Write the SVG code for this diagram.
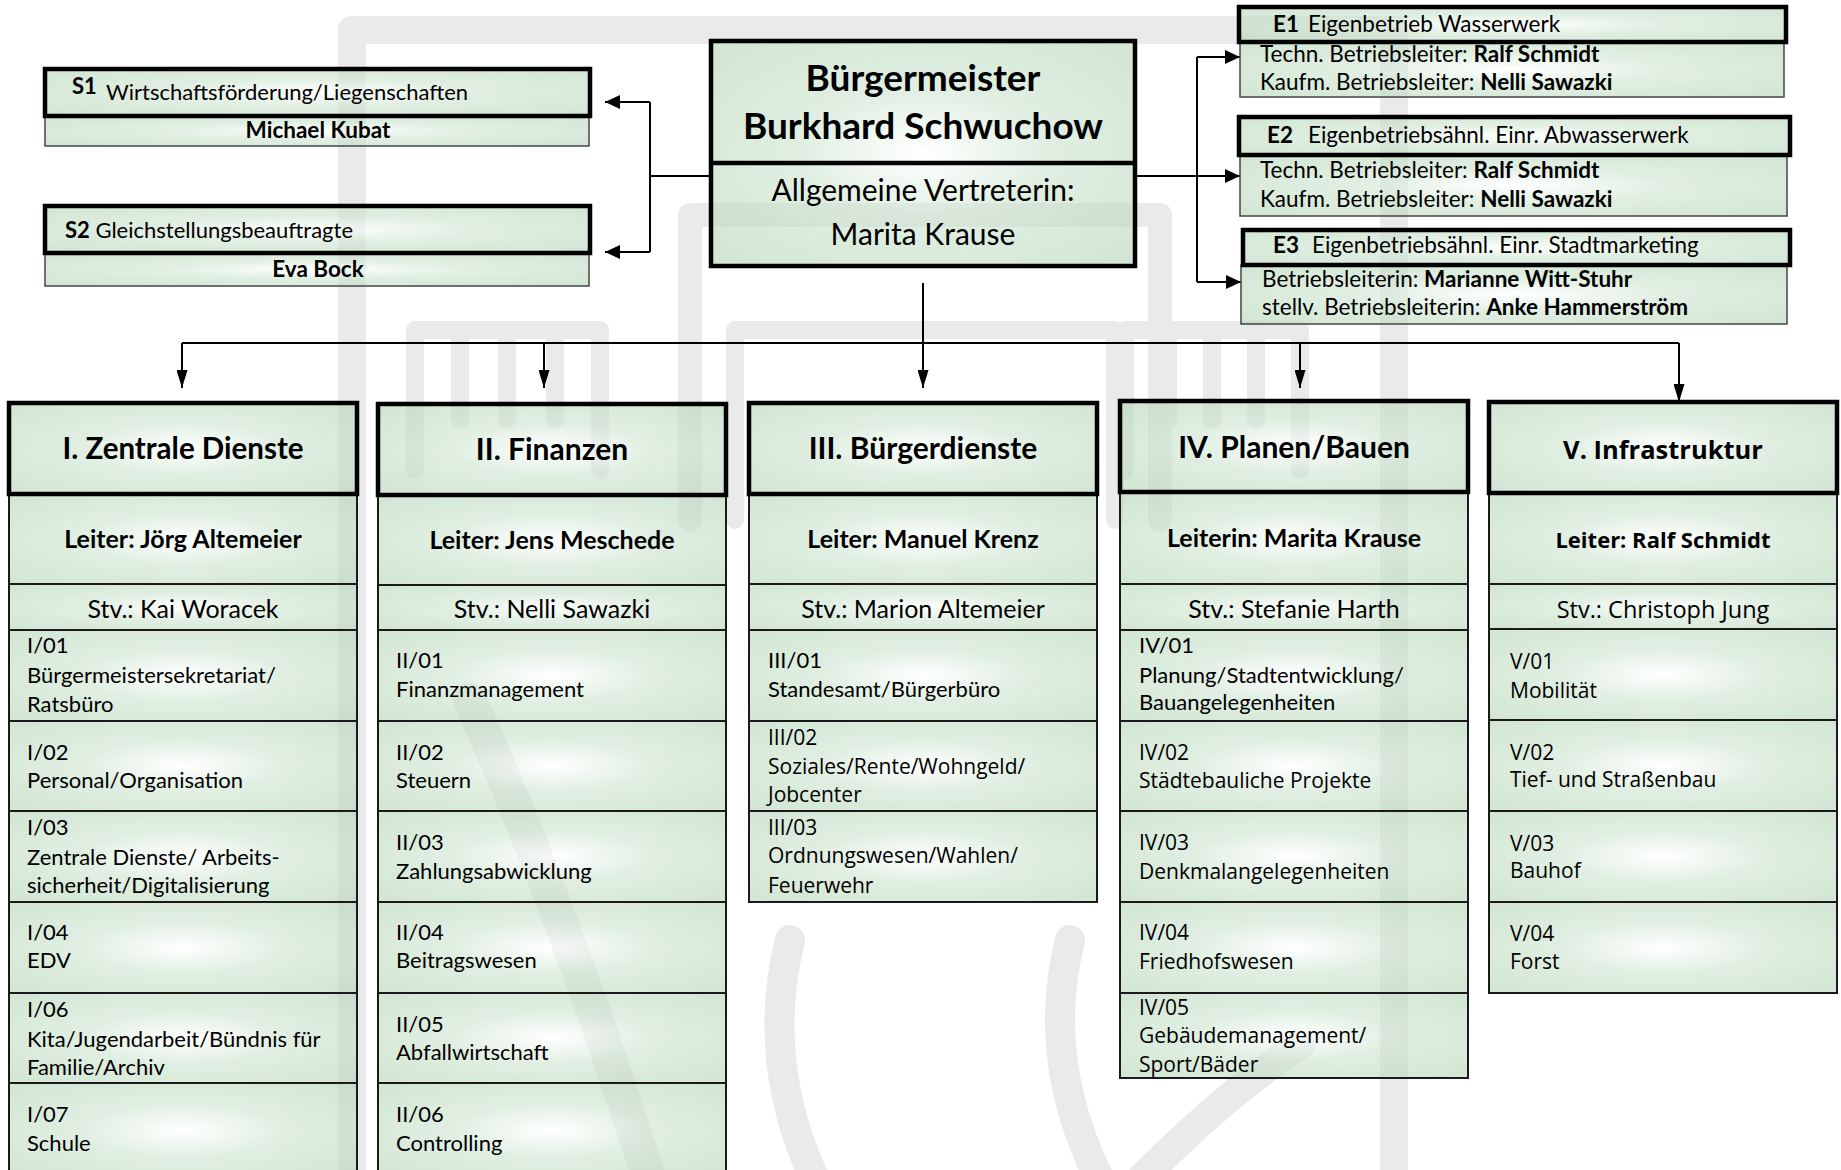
<svg xmlns="http://www.w3.org/2000/svg" width="1841" height="1170" viewBox="0 0 1841 1170">
<defs>
<radialGradient id="gf" cx="0.5" cy="0.5" r="0.65">
<stop offset="0" stop-color="#ffffff"/>
<stop offset="0.45" stop-color="#cbe4ce"/>
<stop offset="1" stop-color="#b6d6b9"/>
</radialGradient>
<marker id="as" markerWidth="15" markerHeight="14" refX="15" refY="7" orient="auto" markerUnits="userSpaceOnUse"><path d="M0,0 L15,7 L0,14 Z" fill="#000"/></marker>
<marker id="ad" markerWidth="18" markerHeight="11" refX="18" refY="5.5" orient="auto" markerUnits="userSpaceOnUse"><path d="M0,0 L18,5.5 L0,11 Z" fill="#000"/></marker>
</defs>
<style>
.box{fill:url(#gf);fill-opacity:.6;stroke:#1a1a1a;stroke-width:2}
.thin{fill:url(#gf);fill-opacity:.6;stroke:#444;stroke-width:1.5}
.thick{fill:url(#gf);fill-opacity:.6;stroke:#000;stroke-width:4.5}
.c{font-family:Lato,'Liberation Sans',sans-serif;fill:#000;font-size:22px}
.o{font-family:'Open Sans','DejaVu Sans',sans-serif;fill:#000;font-size:21px}
.e{font-size:22.5px}
.h{font-size:25px}
.t{font-size:30px}
.b{font-weight:bold}
.m{text-anchor:middle}
.wm{fill:none;stroke:#eaeaea;stroke-linejoin:round;stroke-linecap:round}
.ln{fill:none;stroke:#000;stroke-width:2}
</style>
<rect width="1841" height="1170" fill="#fff"/>
<g id="watermark" class="wm">
<path d="M352 1180 V30 H1394 V1180" stroke-width="28"/>
<path d="M690 520 V215 H1160 V520" stroke-width="24"/>
<path d="M735 520 V330 H1115 V520" stroke-width="18"/>
<path d="M415 470 V330 H600 V470 M460 330 V420 M507 330 V420 M555 330 V420" stroke-width="18"/>
<path d="M1125 470 V330 H1300 V470 M1168 330 V420 M1212 330 V420 M1256 330 V420" stroke-width="18"/>
<path d="M470 700 Q 560 900 650 1180" stroke-width="34"/>
<path d="M790 940 Q 760 1060 815 1180" stroke-width="30"/>
<path d="M1070 940 Q 1040 1060 1100 1180" stroke-width="30"/>
<path d="M1140 1180 Q 1230 1090 1300 1045" stroke-width="30"/>
</g>
<g id="connectors">
<path class="ln" d="M711 176 H650 M650 102 V252"/>
<line class="ln" x1="650" y1="102" x2="605" y2="102" marker-end="url(#as)"/>
<line class="ln" x1="650" y1="252" x2="605" y2="252" marker-end="url(#as)"/>
<path class="ln" d="M1135 176 H1197 M1197 57 V282"/>
<line class="ln" x1="1197" y1="57" x2="1240" y2="57" marker-end="url(#as)"/>
<line class="ln" x1="1197" y1="176" x2="1240" y2="176" marker-end="url(#as)"/>
<line class="ln" x1="1197" y1="282" x2="1241" y2="282" marker-end="url(#as)"/>
<path class="ln" d="M182 343 H1679" stroke-width="2.5"/>
<line class="ln" x1="923" y1="283" x2="923" y2="388" marker-end="url(#ad)"/>
<line class="ln" x1="182" y1="343" x2="182" y2="388" marker-end="url(#ad)"/>
<line class="ln" x1="544" y1="343" x2="544" y2="388" marker-end="url(#ad)"/>
<line class="ln" x1="1300" y1="343" x2="1300" y2="388" marker-end="url(#ad)"/>
<line class="ln" x1="1679" y1="343" x2="1679" y2="402" marker-end="url(#ad)"/>
</g>
<g id="s1">
<rect class="thin" x="45" y="116" width="544" height="30"/>
<rect class="thick" x="45" y="69" width="545" height="47"/>
<text class="c b" x="72" y="94">S1</text>
<text class="c" x="106" y="100">Wirtschaftsförderung/Liegenschaften</text>
<text class="c b m" x="318" y="138" style="font-size:22.5px">Michael Kubat</text>
</g>
<g id="s2">
<rect class="thin" x="45" y="253" width="544" height="33"/>
<rect class="thick" x="45" y="206" width="545" height="47"/>
<text class="c" x="65" y="238"><tspan class="b">S2</tspan> Gleichstellungsbeauftragte</text>
<text class="c b m" x="318" y="277" style="font-size:22.5px">Eva Bock</text>
</g>
<g id="buergermeister">
<rect class="thick" x="711" y="41" width="424" height="225"/>
<line x1="711" y1="163" x2="1135" y2="163" stroke="#000" stroke-width="4.5"/>
<text class="c b m" x="923" y="91" style="font-size:37px">Bürgermeister</text>
<text class="c b m" x="923" y="139" style="font-size:37px">Burkhard Schwuchow</text>
<text class="c m" x="923" y="201" style="font-size:30px">Allgemeine Vertreterin:</text>
<text class="c m" x="923" y="245" style="font-size:30px">Marita Krause</text>
</g>
<g id="e1">
<rect class="thin" x="1240" y="42" width="544" height="55"/>
<rect class="thick" x="1239" y="7" width="547" height="35"/>
<text class="c e" x="1273" y="32"><tspan class="b">E1</tspan><tspan x="1308">Eigenbetrieb Wasserwerk</tspan></text>
<text class="c e" x="1260" y="62">Techn. Betriebsleiter: <tspan class="b">Ralf Schmidt</tspan></text>
<text class="c e" x="1260" y="90">Kaufm. Betriebsleiter: <tspan class="b">Nelli Sawazki</tspan></text>
</g>
<g id="e2">
<rect class="thin" x="1240" y="155" width="547" height="61"/>
<rect class="thick" x="1239" y="117" width="551" height="38"/>
<text class="c e" x="1267" y="143"><tspan class="b">E2</tspan><tspan x="1308">Eigenbetriebsähnl. Einr. Abwasserwerk</tspan></text>
<text class="c e" x="1260" y="178">Techn. Betriebsleiter: <tspan class="b">Ralf Schmidt</tspan></text>
<text class="c e" x="1260" y="207">Kaufm. Betriebsleiter: <tspan class="b">Nelli Sawazki</tspan></text>
</g>
<g id="e3">
<rect class="thin" x="1241" y="265" width="546" height="59"/>
<rect class="thick" x="1243" y="230" width="547" height="35"/>
<text class="c e" x="1273" y="253"><tspan class="b">E3</tspan><tspan x="1312">Eigenbetriebsähnl. Einr. Stadtmarketing</tspan></text>
<text class="c e" x="1262" y="287">Betriebsleiterin: <tspan class="b">Marianne Witt-Stuhr</tspan></text>
<text class="c e" x="1262" y="315">stellv. Betriebsleiterin: <tspan class="b">Anke Hammerström</tspan></text>
</g>
<g id="col1">
<rect class="box" x="9" y="494" width="348" height="90"/>
<rect class="box" x="9" y="584" width="348" height="46"/>
<rect class="box" x="9" y="630" width="348" height="91"/>
<rect class="box" x="9" y="721" width="348" height="90"/>
<rect class="box" x="9" y="811" width="348" height="91"/>
<rect class="box" x="9" y="902" width="348" height="91"/>
<rect class="box" x="9" y="993" width="348" height="90"/>
<rect class="box" x="9" y="1083" width="348" height="95"/>
<rect class="thick" x="9" y="403" width="348" height="91"/>
<text class="c b m" x="183" y="459" style="font-size:29.5px">I. Zentrale Dienste</text>
<text class="c b m h" x="183" y="548">Leiter: Jörg Altemeier</text>
<text class="c m h" x="183" y="618">Stv.: Kai Woracek</text>
<text class="c" x="27" y="653">I/01<tspan x="27" y="683">Bürgermeistersekretariat/</tspan><tspan x="27" y="712">Ratsbüro</tspan></text>
<text class="c" x="27" y="760">I/02<tspan x="27" y="788">Personal/Organisation</tspan></text>
<text class="c" x="27" y="835">I/03<tspan x="27" y="865">Zentrale Dienste/ Arbeits-</tspan><tspan x="27" y="893">sicherheit/Digitalisierung</tspan></text>
<text class="c" x="27" y="940">I/04<tspan x="27" y="968">EDV</tspan></text>
<text class="c" x="27" y="1017">I/06<tspan x="27" y="1047">Kita/Jugendarbeit/Bündnis für</tspan><tspan x="27" y="1075">Familie/Archiv</tspan></text>
<text class="c" x="27" y="1122">I/07<tspan x="27" y="1151">Schule</tspan></text>
</g>
<g id="col2">
<rect class="box" x="378" y="495" width="348" height="90"/>
<rect class="box" x="378" y="585" width="348" height="45"/>
<rect class="box" x="378" y="630" width="348" height="91"/>
<rect class="box" x="378" y="721" width="348" height="90"/>
<rect class="box" x="378" y="811" width="348" height="91"/>
<rect class="box" x="378" y="902" width="348" height="91"/>
<rect class="box" x="378" y="993" width="348" height="90"/>
<rect class="box" x="378" y="1083" width="348" height="95"/>
<rect class="thick" x="378" y="404" width="348" height="91"/>
<text class="c b m t" x="552" y="460">II. Finanzen</text>
<text class="c b m h" x="552" y="549">Leiter: Jens Meschede</text>
<text class="c m h" x="552" y="618">Stv.: Nelli Sawazki</text>
<text class="c" x="396" y="668">II/01<tspan x="396" y="697">Finanzmanagement</tspan></text>
<text class="c" x="396" y="760">II/02<tspan x="396" y="788">Steuern</tspan></text>
<text class="c" x="396" y="850">II/03<tspan x="396" y="879">Zahlungsabwicklung</tspan></text>
<text class="c" x="396" y="940">II/04<tspan x="396" y="968">Beitragswesen</tspan></text>
<text class="c" x="396" y="1032">II/05<tspan x="396" y="1060">Abfallwirtschaft</tspan></text>
<text class="c" x="396" y="1122">II/06<tspan x="396" y="1151">Controlling</tspan></text>
</g>
<g id="col3">
<rect class="box" x="749" y="494" width="348" height="90"/>
<rect class="box" x="749" y="584" width="348" height="46"/>
<rect class="box" x="749" y="630" width="348" height="91"/>
<rect class="box" x="749" y="721" width="348" height="90"/>
<rect class="box" x="749" y="811" width="348" height="91"/>
<rect class="thick" x="749" y="403" width="348" height="91"/>
<text class="c b m t" x="923" y="459">III. Bürgerdienste</text>
<text class="c b m h" x="923" y="548">Leiter: Manuel Krenz</text>
<text class="c m h" x="923" y="618">Stv.: Marion Altemeier</text>
<text class="c" x="768" y="668">III/01<tspan x="768" y="697">Standesamt/Bürgerbüro</tspan></text>
<text class="o" x="768" y="745">III/02<tspan x="768" y="774">Soziales/Rente/Wohngeld/</tspan><tspan x="768" y="802">Jobcenter</tspan></text>
<text class="o" x="768" y="835">III/03<tspan x="768" y="863">Ordnungswesen/Wahlen/</tspan><tspan x="768" y="893">Feuerwehr</tspan></text>
</g>
<g id="col4">
<rect class="box" x="1120" y="492" width="348" height="92"/>
<rect class="box" x="1120" y="584" width="348" height="46"/>
<rect class="box" x="1120" y="630" width="348" height="91"/>
<rect class="box" x="1120" y="721" width="348" height="90"/>
<rect class="box" x="1120" y="811" width="348" height="91"/>
<rect class="box" x="1120" y="902" width="348" height="91"/>
<rect class="box" x="1120" y="993" width="348" height="85"/>
<rect class="thick" x="1120" y="401" width="348" height="91"/>
<text class="c b m t" x="1294" y="458">IV. Planen/Bauen</text>
<text class="c b m h" x="1294" y="547">Leiterin: Marita Krause</text>
<text class="c m h" x="1294" y="618">Stv.: Stefanie Harth</text>
<text class="c" x="1139" y="653">IV/01<tspan x="1139" y="683">Planung/Stadtentwicklung/</tspan><tspan x="1139" y="710">Bauangelegenheiten</tspan></text>
<text class="o" x="1139" y="760">IV/02<tspan x="1139" y="788">Städtebauliche Projekte</tspan></text>
<text class="o" x="1139" y="850">IV/03<tspan x="1139" y="879">Denkmalangelegenheiten</tspan></text>
<text class="o" x="1139" y="940">IV/04<tspan x="1139" y="969">Friedhofswesen</tspan></text>
<text class="o" x="1139" y="1015">IV/05<tspan x="1139" y="1043">Gebäudemanagement/</tspan><tspan x="1139" y="1072">Sport/Bäder</tspan></text>
</g>
<g id="col5">
<rect class="box" x="1489" y="493" width="348" height="91"/>
<rect class="box" x="1489" y="584" width="348" height="45"/>
<rect class="box" x="1489" y="629" width="348" height="91"/>
<rect class="box" x="1489" y="720" width="348" height="91"/>
<rect class="box" x="1489" y="811" width="348" height="91"/>
<rect class="box" x="1489" y="902" width="348" height="91"/>
<rect class="thick" x="1489" y="402" width="348" height="91"/>
<text class="o b m" x="1663" y="459" style="font-size:25.5px">V. Infrastruktur</text>
<text class="o b m" x="1663" y="548" style="font-size:22px">Leiter: Ralf Schmidt</text>
<text class="o m" x="1663" y="618" style="font-size:23.5px">Stv.: Christoph Jung</text>
<text class="o" x="1510" y="669">V/01<tspan x="1510" y="698">Mobilität</tspan></text>
<text class="o" x="1510" y="760">V/02<tspan x="1510" y="787">Tief- und Straßenbau</tspan></text>
<text class="o" x="1510" y="851">V/03<tspan x="1510" y="878">Bauhof</tspan></text>
<text class="o" x="1510" y="941">V/04<tspan x="1510" y="969">Forst</tspan></text>
</g>
</svg>
